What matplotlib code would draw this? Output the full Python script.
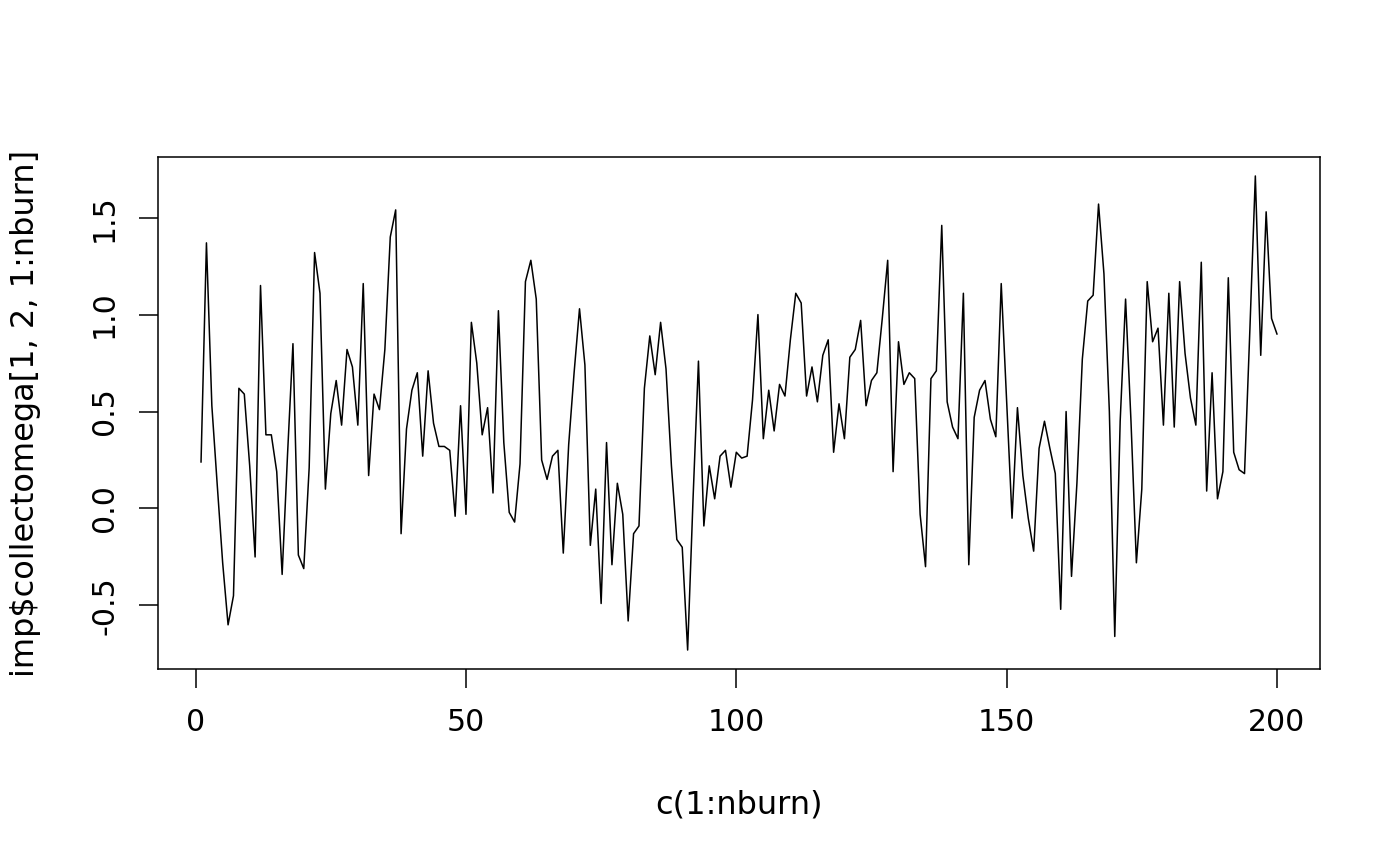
import numpy as np
import matplotlib
matplotlib.use("Agg")
import matplotlib.pyplot as plt

# values, iterations 1..200
omega = [
    0.24, 1.37, 0.53, 0.12, -0.28, -0.60, -0.45, 0.62, 0.59, 0.22,
    -0.25, 1.15, 0.38, 0.38, 0.19, -0.34, 0.28, 0.85, -0.24, -0.31,
    0.21, 1.32, 1.11, 0.10, 0.49, 0.66, 0.43, 0.82, 0.73, 0.43,
    1.16, 0.17, 0.59, 0.51, 0.82, 1.40, 1.54, -0.13, 0.41, 0.61,
    0.70, 0.27, 0.71, 0.44, 0.32, 0.32, 0.30, -0.04, 0.53, -0.03,
    0.96, 0.75, 0.38, 0.52, 0.08, 1.02, 0.34, -0.02, -0.07, 0.23,
    1.17, 1.28, 1.08, 0.25, 0.15, 0.27, 0.30, -0.23, 0.33, 0.70,
    1.03, 0.74, -0.19, 0.10, -0.49, 0.34, -0.29, 0.13, -0.03, -0.58,
    -0.13, -0.09, 0.62, 0.89, 0.69, 0.96, 0.72, 0.22, -0.16, -0.20,
    -0.73, 0.05, 0.76, -0.09, 0.22, 0.05, 0.27, 0.30, 0.11, 0.29,
    0.26, 0.27, 0.56, 1.00, 0.36, 0.61, 0.40, 0.64, 0.58, 0.87,
    1.11, 1.06, 0.58, 0.73, 0.55, 0.79, 0.87, 0.29, 0.54, 0.36,
    0.78, 0.82, 0.97, 0.53, 0.66, 0.70, 0.98, 1.28, 0.19, 0.86,
    0.64, 0.70, 0.67, -0.03, -0.30, 0.67, 0.71, 1.46, 0.55, 0.42,
    0.36, 1.11, -0.29, 0.47, 0.61, 0.66, 0.46, 0.37, 1.16, 0.56,
    -0.05, 0.52, 0.17, -0.05, -0.22, 0.31, 0.45, 0.31, 0.18, -0.52,
    0.50, -0.35, 0.13, 0.77, 1.07, 1.10, 1.57, 1.21, 0.50, -0.66,
    0.45, 1.08, 0.45, -0.28, 0.10, 1.17, 0.86, 0.93, 0.43, 1.11,
    0.42, 1.17, 0.80, 0.57, 0.43, 1.27, 0.09, 0.70, 0.05, 0.19,
    1.19, 0.29, 0.20, 0.18, 0.93, 1.715, 0.79, 1.53, 0.98, 0.90,
]
nburn = np.arange(1, len(omega) + 1)

x_ticks = [0, 50, 100, 150, 200]
y_ticks = [-0.5, 0.0, 0.5, 1.0, 1.5]
y_tick_labels = ["-0.5", "0.0", "0.5", "1.0", "1.5"]

plt.rcParams['font.family'] = ['DejaVu Sans']

fig = plt.figure(figsize=(14, 8.66), dpi=100)
ax = fig.add_axes([158/1400, 1-669/866, (1320-158)/1400, (669-157)/866])

ax.plot(nburn, omega, color='black', linewidth=1.1)

# R style 4% padding
xr = nburn.max() - nburn.min()
ax.set_xlim(nburn.min() - 0.04*xr, nburn.max() + 0.04*xr)
yr = max(omega) - min(omega)
ax.set_ylim(min(omega) - 0.04*yr, max(omega) + 0.04*yr)

ax.set_xticks(x_ticks)
ax.set_yticks(y_ticks)
ax.set_yticklabels(y_tick_labels)
ax.tick_params(axis='both', length=14, width=1.1, labelsize=21.5, pad=14)
ax.tick_params(axis='y', labelrotation=90)
for lab in ax.get_yticklabels():
    lab.set_va('center')
for sp in ax.spines.values():
    sp.set_linewidth(1.1)

fig.text(739/1400, 1-805/866, "c(1:nburn)", ha='center', va='center', fontsize=23)
fig.text(26/1400, 1-413/866, "imp$collectomega[1, 2, 1:nburn]", ha='center', va='center',
         rotation=90, fontsize=23)

fig.savefig("out.png", dpi=100)
